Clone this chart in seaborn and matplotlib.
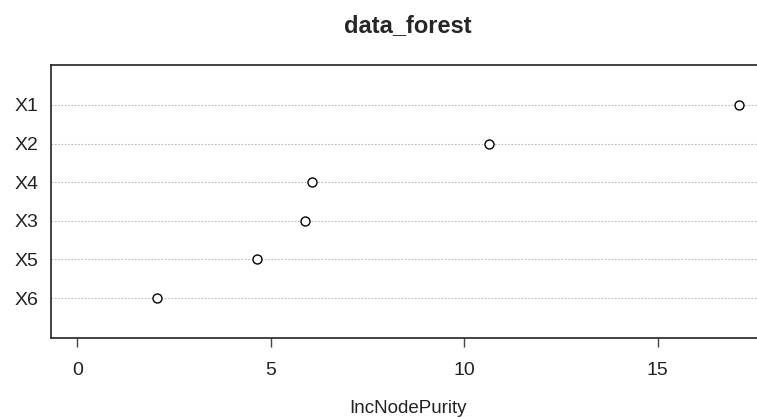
import pandas as pd
import seaborn as sns
import matplotlib.pyplot as plt

# Dane - ważność zmiennych (IncNodePurity)
variables = ["X1", "X2", "X4", "X3", "X5", "X6"]
purity = [17.09, 10.64, 6.07, 5.89, 4.65, 2.07]

df = pd.DataFrame({"variable": variables, "IncNodePurity": purity})

sns.set_style("white")
plt.rcParams['font.family'] = ['Liberation Sans', 'DejaVu Sans']

fig = plt.figure(figsize=(7.57, 4.19), dpi=100)
ax = fig.add_axes([0.0674, 0.1933, 0.9432, 0.6516])

sns.scatterplot(data=df, x="IncNodePurity", y="variable", ax=ax,
                marker="o", s=42, facecolor="white", edgecolor="black",
                linewidth=1.0, zorder=3)

ax.set_xlim(-0.68, 17.77)
ax.set_ylim(len(variables) - 1 + 1.036, -1.036)
ax.set_xticks([0, 5, 10, 15])

# Kropkowane linie pomocnicze
ax.grid(axis="y", linestyle=(0, (1.5, 1.5)), color="#bbbbbb", linewidth=0.8)
ax.grid(axis="x", visible=False)

for s in ax.spines.values():
    s.set_color("#222222")
    s.set_linewidth(1.2)

ax.tick_params(axis="x", direction="out", length=6.5, width=1.0, color="#444444",
               pad=11, labelsize=14, labelcolor="#222222", bottom=True)
ax.tick_params(axis="y", length=0, pad=9, labelsize=14, labelcolor="#222222")

ax.set_ylabel("")
ax.set_xlabel("IncNodePurity", fontsize=13.5, color="#222222", labelpad=15)
ax.set_title("data_forest", fontsize=17, fontweight="bold", pad=24)

plt.savefig("out.png", dpi=100)
